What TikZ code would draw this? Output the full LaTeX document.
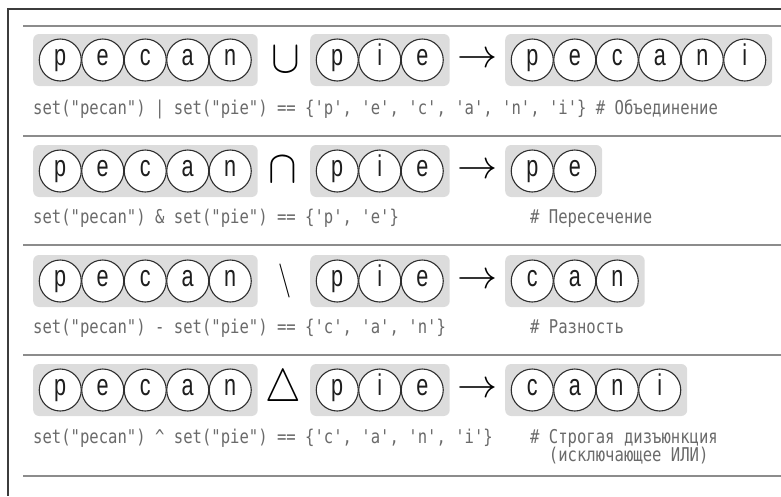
\documentclass[tikz,border=0pt]{standalone}
\usepackage{fontspec}
\newfontfamily\letterfont[FakeStretch=0.72]{Liberation Sans}
\newfontfamily\codefont[FakeStretch=0.82,Ligatures=TeXOff]{DejaVu Sans Mono}
\definecolor{boxgray}{HTML}{DCDCDC}
\definecolor{circline}{HTML}{2E2E2E}
\definecolor{lettercol}{HTML}{1E1E1E}
\definecolor{codegray}{HTML}{6A6A6A}
\definecolor{framecol}{HTML}{3C3C3C}
\definecolor{sepcol}{HTML}{8C8C8C}
\tikzset{
  setbox/.style={fill=boxgray, rounded corners=6pt, minimum height=52pt, inner sep=0pt, draw=none},
  letter/.style={circle, draw=circline, fill=white, line width=1.1pt, minimum size=42pt, inner sep=0pt,
    font=\letterfont\fontsize{30}{30}\selectfont, text height=16pt, text depth=6pt, text=lettercol},
  opsym/.style={inner sep=0pt, text=black},
  code/.style={inner sep=0pt, anchor=mid west, text=codegray, font=\codefont\fontsize{19}{19}\selectfont},
  frameline/.style={draw=framecol, line width=1.4pt},
  sepline/.style={draw=sepcol, line width=2.2pt}
}
\newcommand\letterset[5]{%
  \node[setbox, minimum width={#4*42.5+12}, anchor=west] (#1) at (#2,#3) {};
  \foreach \l [count=\i] in {#5} {\node[letter] (#1-\i) at ({#2+27.25+(\i-1)*42.5},#3) {\l};}
}
\begin{document}
\begin{tikzpicture}[x=1pt,y=-1pt]
\useasboundingbox (0,0) rectangle (781,496);
% frame
\draw[frameline] (781,9) -- (8,9) -- (8,496);
% separators
\foreach \yy in {26,136,245,355,476} {\draw[sepline] (23,\yy) -- (781,\yy);}
% ---------- row 1: union
\letterset{aA}{33}{60}{5}{p,e,c,a,n}
\node[opsym] (opA) at (286,60) {\scalebox{4.3}[4.6]{$\cup$}};
\letterset{aB}{310}{60}{3}{p,i,e}
\node[opsym] (arA) at (477,60) {\scalebox{4}{$\rightarrow$}};
\letterset{aC}{505}{60}{6}{p,e,c,a,n,i}
\node[code] (codeA) at (33,112) {set("pecan") | set("pie") == \{'p', 'e', 'c', 'a', 'n', 'i'\} \# Объединение};
% ---------- row 2: intersection
\letterset{bA}{33}{171}{5}{p,e,c,a,n}
\node[opsym] (opB) at (283,170) {\scalebox{4.3}[4.6]{$\cap$}};
\letterset{bB}{310}{171}{3}{p,i,e}
\node[opsym] (arB) at (477,171) {\scalebox{4}{$\rightarrow$}};
\letterset{bC}{505}{171}{2}{p,e}
\node[code] (codeB) at (33,221) {set("pecan") \& set("pie") == \{'p', 'e'\}};
\node[code] (comB) at (530,221) {\# Пересечение};
% ---------- row 3: difference
\letterset{cA}{33}{281}{5}{p,e,c,a,n}
\node[opsym] (opC) at (285,281) {\scalebox{2.6}[3.4]{$\backslash$}};
\letterset{cB}{310}{281}{3}{p,i,e}
\node[opsym] (arC) at (477,281) {\scalebox{4}{$\rightarrow$}};
\letterset{cC}{505}{281}{3}{c,a,n}
\node[code] (codeC) at (33,331) {set("pecan") - set("pie") == \{'c', 'a', 'n'\}};
\node[code] (comC) at (530,331) {\# Разность};
% ---------- row 4: symmetric difference
\letterset{dA}{33}{390}{5}{p,e,c,a,n}
\node[opsym] (opD) at (283,390) {\scalebox{4}[4.6]{$\triangle$}};
\letterset{dB}{310}{390}{3}{p,i,e}
\node[opsym] (arD) at (477,390) {\scalebox{4}{$\rightarrow$}};
\letterset{dC}{505}{390}{4}{c,a,n,i}
\node[code] (codeD) at (33,441) {set("pecan") \textasciicircum{} set("pie") == \{'c', 'a', 'n', 'i'\}};
\node[code] (comD) at (530,441) {\# Строгая дизъюнкция};
\node[code] (comD2) at (530,459) {\phantom{\# }(исключающее ИЛИ)};
\end{tikzpicture}
\end{document}
